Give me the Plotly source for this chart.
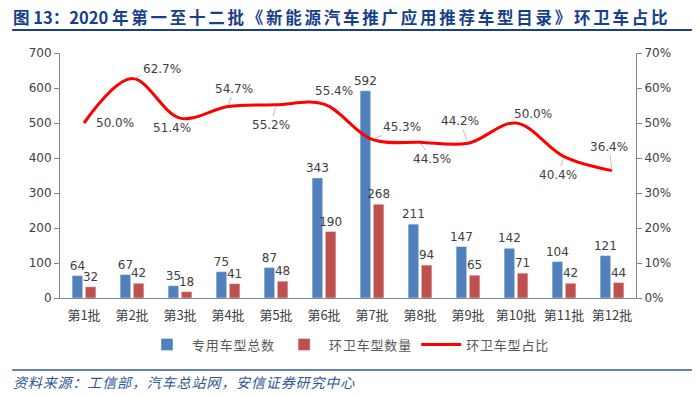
import plotly.graph_objects as go

categories = ["第1批", "第2批", "第3批", "第4批", "第5批", "第6批",
              "第7批", "第8批", "第9批", "第10批", "第11批", "第12批"]
total_models = [64, 67, 35, 75, 87, 343, 592, 211, 147, 142, 104, 121]
sanitation_models = [32, 42, 18, 41, 48, 190, 268, 94, 65, 71, 42, 44]
sanitation_share = [50.0, 62.7, 51.4, 54.7, 55.2, 55.4, 45.3, 44.5, 44.2, 50.0, 40.4, 36.4]
series_names = ["专用车型总数", "环卫车型数量", "环卫车型占比"]
left_ticks = [0, 100, 200, 300, 400, 500, 600, 700]
right_ticks = [0, 10, 20, 30, 40, 50, 60, 70]
right_tick_text = [f"{v}%" for v in right_ticks]

# label offsets (px): dx, dy (down positive), leader line flag
label_offsets = [(31, 0, False), (30, -10, True), (-8, 10, False), (6, -18, True),
                 (-5, 20, True), (10, -13, False), (30, -12, True), (12, 17, True),
                 (-8, -22, True), (17, -9, False), (-6, 18, True), (-3, -24, True)]

NUM_FONT = "DejaVu Sans"
CJK_FONT = "Noto Sans CJK SC"
TXT = "#404040"
AXIS = "#868686"

# page body has an 8px default margin; figure is sized to fit the 700x396 window
W, H = 692, 388


def spaced(s, sep="\u2006"):
    return sep.join(list(s))


fig = go.Figure()
fig.add_trace(go.Bar(
    x=categories, y=total_models, name=spaced(series_names[0], "\u200a"),
    marker=dict(color="#4F81BD"),
    text=total_models, textposition="outside", constraintext="none",
    textfont=dict(family=NUM_FONT, size=12, color=TXT),
    cliponaxis=False,
))
fig.add_trace(go.Bar(
    x=categories, y=sanitation_models, name=spaced(series_names[1], "\u200a"),
    marker=dict(color="#C0504D"),
    text=sanitation_models, textposition="outside", constraintext="none",
    textfont=dict(family=NUM_FONT, size=12, color=TXT),
    cliponaxis=False,
))
fig.add_trace(go.Scatter(
    x=categories, y=sanitation_share, name=spaced(series_names[2], "\u200a"), yaxis="y2",
    mode="lines", line=dict(color="#FF0000", width=3, shape="spline", smoothing=1.0),
))

annotations = []
for cat, val, (dx, dy, leader) in zip(categories, sanitation_share, label_offsets):
    if leader:
        annotations.append(dict(
            x=cat, y=val, xref="x", yref="y2", text=f"{val:.1f}%",
            showarrow=True, arrowhead=0, arrowwidth=1, arrowcolor="#BFBFBF",
            ax=dx, ay=dy, standoff=2,
            font=dict(family=NUM_FONT, size=12, color=TXT),
        ))
    else:
        annotations.append(dict(
            x=cat, y=val, xref="x", yref="y2", text=f"{val:.1f}%",
            showarrow=False, xshift=dx, yshift=-dy,
            font=dict(family=NUM_FONT, size=12, color=TXT),
        ))

annotations.append(dict(
    x=-0.085, y=-0.343, xref="paper", yref="paper", xanchor="left", yanchor="middle",
    text="<i>" + spaced("资料来源：工信部，汽车总站网，安信证券研究中心", "\u200a") + "</i>",
    showarrow=False,
    font=dict(family=CJK_FONT, size=14, color="#2F5597"),
))

title_text = ("图 13：2020 " + spaced("年第一至十二批《新能源汽车推广应用推荐车型目录》环卫车占比"))

fig.update_layout(
    width=W, height=H,
    margin=dict(l=52, r=64, t=45, b=98),
    paper_bgcolor="white", plot_bgcolor="white",
    title=dict(
        text="<b>" + title_text + "</b>",
        x=5 / W, xanchor="left", xref="container",
        y=1 - 10 / H, yanchor="middle", yref="container",
        font=dict(family=CJK_FONT, size=16.5, color="#17408B"),
    ),
    barmode="group", bargap=0.45, bargroupgap=0.2,
    showlegend=True,
    legend=dict(
        orientation="h", x=0.5, xanchor="center", y=-0.19, yanchor="middle",
        font=dict(family=CJK_FONT, size=13, color="#595959"),
        itemwidth=40, traceorder="normal",
    ),
    xaxis=dict(
        type="category", showline=True, linecolor=AXIS, linewidth=1,
        ticks="", showgrid=False, ticklabelstandoff=5,
        tickfont=dict(family=CJK_FONT, size=13, color=TXT),
    ),
    yaxis=dict(
        range=[0, 700], tickvals=left_ticks, showline=True, linecolor=AXIS, linewidth=1,
        ticks="outside", ticklen=5, tickcolor=AXIS, showgrid=False, zeroline=False,
        tickfont=dict(family=NUM_FONT, size=12, color=TXT),
    ),
    yaxis2=dict(
        range=[0, 70], tickvals=right_ticks, ticktext=right_tick_text,
        overlaying="y", side="right", showline=True, linecolor=AXIS, linewidth=1,
        ticks="outside", ticklen=5, tickcolor=AXIS, showgrid=False, zeroline=False,
        tickfont=dict(family=NUM_FONT, size=12, color=TXT),
    ),
    annotations=annotations,
    shapes=[
        dict(type="line", xref="paper", yref="paper", x0=-0.083, x1=1.097,
             y0=1.094, y1=1.094, line=dict(color="#17408B", width=2)),
        dict(type="line", xref="paper", yref="paper", x0=-0.083, x1=1.097,
             y0=-0.294, y1=-0.294, line=dict(color="#2F5597", width=1.5)),
    ],
)

fig.write_html("out.html")
